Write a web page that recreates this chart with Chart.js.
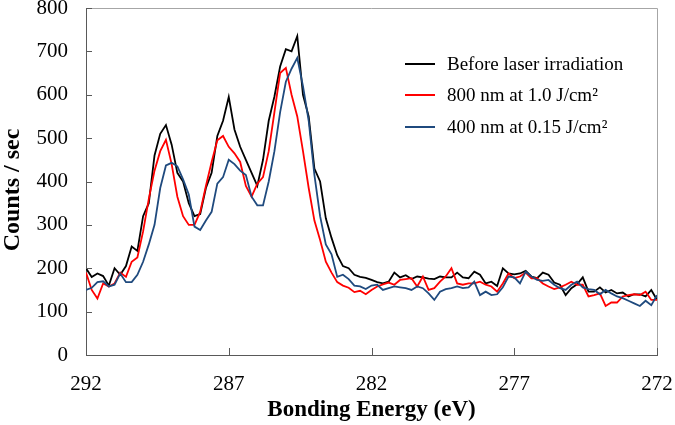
<!DOCTYPE html>
<html>
<head>
<meta charset="utf-8">
<script src="https://cdn.jsdelivr.net/npm/chart.js@4.4.1/dist/chart.umd.min.js"></script>
<style>
  body { margin: 0; background: #fff; }
</style>
</head>
<body>
<canvas id="myChart" width="675" height="425"></canvas>
<script>
// binding energy (eV), 0.2 eV steps
const energy = [
  292, 291.8, 291.6, 291.4, 291.2, 291, 290.8, 290.6, 290.4, 290.2,
  290, 289.8, 289.6, 289.4, 289.2, 289, 288.8, 288.6, 288.4, 288.2,
  288, 287.8, 287.6, 287.4, 287.2, 287, 286.8, 286.6, 286.4, 286.2,
  286, 285.8, 285.6, 285.4, 285.2, 285, 284.8, 284.6, 284.4, 284.2,
  284, 283.8, 283.6, 283.4, 283.2, 283, 282.8, 282.6, 282.4, 282.2,
  282, 281.8, 281.6, 281.4, 281.2, 281, 280.8, 280.6, 280.4, 280.2,
  280, 279.8, 279.6, 279.4, 279.2, 279, 278.8, 278.6, 278.4, 278.2,
  278, 277.8, 277.6, 277.4, 277.2, 277, 276.8, 276.6, 276.4, 276.2,
  276, 275.8, 275.6, 275.4, 275.2, 275, 274.8, 274.6, 274.4, 274.2,
  274, 273.8, 273.6, 273.4, 273.2, 273, 272.8, 272.6, 272.4, 272.2,
  272
];

const beforeCounts = [
  200, 180, 188, 182, 160, 200, 185, 205, 250, 240,
  320, 350, 460, 510, 530, 485, 420, 400, 350, 320,
  325, 385, 420, 505, 540, 595, 520, 480, 450, 420,
  390, 450, 540, 596, 665, 705, 700, 735, 600, 550,
  430, 400, 315, 270, 230, 205, 200, 185, 180, 178,
  173, 168, 165, 169, 190, 179, 184, 175, 181, 179,
  176, 175, 181, 179, 179, 190, 179, 177, 192, 185,
  165, 169, 159, 200, 188, 186, 188, 194, 181, 177,
  190, 185, 167, 162, 138, 154, 163, 179, 146, 146,
  156, 144, 150, 142, 144, 135, 140, 140, 135, 150,
  127
];

const nm800Counts = [
  190, 150, 130, 165, 158, 165, 190, 180, 215, 225,
  285, 360, 425, 470, 496, 440, 365, 320, 300, 300,
  330, 390, 445, 495, 505, 480, 465, 445, 390, 365,
  395, 410, 470, 560, 650, 662, 600, 550, 470, 385,
  310, 265, 215, 190, 168, 160, 155, 145, 148, 140,
  150, 158, 163, 167, 162, 173, 175, 177, 158, 181,
  150, 154, 169, 181, 200, 165, 162, 165, 165, 169,
  162, 158, 146, 165, 188, 177, 181, 190, 177, 177,
  165, 158, 152, 156, 162, 169, 162, 162, 135, 138,
  142, 113, 121, 121, 135, 138, 140, 138, 146, 127,
  127
];

const nm400Counts = [
  150, 155, 168, 170, 158, 162, 188, 168, 168, 185,
  215, 255, 300, 385, 437, 443, 435, 405, 370, 296,
  288, 310, 330, 395, 410, 450, 440, 425, 415, 365,
  345, 345, 400, 470, 560, 630, 660, 685, 620, 540,
  415, 320, 255, 232, 180, 185, 175, 160, 158, 152,
  160, 162, 150, 154, 158, 156, 154, 150, 158, 154,
  142, 127, 146, 152, 154, 158, 154, 156, 169, 138,
  146, 138, 140, 156, 181, 179, 165, 192, 181, 173,
  171, 173, 162, 154, 150, 162, 169, 156, 152, 150,
  140, 150, 142, 135, 131, 125, 119, 113, 125, 115,
  138
];

const seriesLabels = [
  "Before laser irradiation",
  "800 nm at 1.0 J/cm\u00B2",
  "400 nm at 0.15 J/cm\u00B2",
];
const seriesColors = ["#000000", "#ff0000", "#1f4a7e"];
const yTitle = "Counts / sec";

const toPoints = (vals) => vals.map((v, i) => ({ x: energy[i], y: v }));

const serif = "'Liberation Serif', 'Times New Roman', serif";
Chart.defaults.font.family = serif;
Chart.defaults.color = "#000";

const framePlugin = {
  id: "frame",
  afterDraw(chart) {
    const { ctx, chartArea: a, scales } = chart;
    ctx.save();
    // grey top and right border
    ctx.strokeStyle = "#a6a6a6";
    ctx.lineWidth = 1;
    ctx.beginPath();
    ctx.moveTo(a.left, a.top + 0.5);
    ctx.lineTo(Math.round(a.right) + 0.5, a.top + 0.5);
    ctx.lineTo(Math.round(a.right) + 0.5, a.bottom);
    ctx.stroke();

    // tick marks pointing inwards
    ctx.strokeStyle = "#595959";
    ctx.beginPath();
    scales.y.ticks.forEach((t) => {
      const y = Math.round(scales.y.getPixelForValue(t.value)) + 0.5;
      ctx.moveTo(a.left, y);
      ctx.lineTo(a.left + 6, y);
    });
    scales.x.ticks.forEach((t) => {
      const x = Math.round(scales.x.getPixelForValue(t.value)) + 0.5;
      ctx.moveTo(x, a.bottom);
      ctx.lineTo(x, a.bottom - 7);
    });
    ctx.stroke();

    // y axis title (sits a little below the middle in the original)
    ctx.save();
    ctx.translate(13, 190);
    ctx.rotate(-Math.PI / 2);
    ctx.font = "bold 24px " + serif;
    ctx.textAlign = "center";
    ctx.textBaseline = "middle";
    ctx.fillStyle = "#000";
    ctx.fillText(yTitle, 0, 0);
    ctx.restore();

    // legend
    const rows = [64, 95, 127];
    ctx.font = "19px " + serif;
    ctx.textBaseline = "middle";
    ctx.textAlign = "left";
    chart.data.datasets.forEach((ds, i) => {
      ctx.strokeStyle = ds.borderColor;
      ctx.lineWidth = 2;
      ctx.beginPath();
      ctx.moveTo(405, rows[i]);
      ctx.lineTo(435, rows[i]);
      ctx.stroke();
      ctx.fillStyle = "#000";
      ctx.fillText(ds.label, 447, rows[i] + 1);
    });
    ctx.restore();
  },
};

new Chart(document.getElementById("myChart"), {
  type: "line",
  data: {
    datasets: [
      { label: seriesLabels[0], data: toPoints(beforeCounts), borderColor: seriesColors[0], order: 3 },
      { label: seriesLabels[1], data: toPoints(nm800Counts), borderColor: seriesColors[1], order: 2 },
      { label: seriesLabels[2], data: toPoints(nm400Counts), borderColor: seriesColors[2], order: 1 },
    ],
  },
  options: {
    responsive: false,
    animation: false,
    devicePixelRatio: 1,
    layout: { padding: { top: 8, right: 18, left: 0, bottom: 0 } },
    elements: {
      line: { borderWidth: 1.8, tension: 0, fill: false },
      point: { radius: 0 },
    },
    plugins: {
      legend: { display: false },
      tooltip: { enabled: false },
    },
    scales: {
      x: {
        type: "linear",
        min: 272,
        max: 292,
        reverse: true,
        ticks: { stepSize: 5, padding: 17, font: { size: 21 }, color: "#000" },
        grid: { drawOnChartArea: false, drawTicks: false },
        border: { color: "#595959" },
        title: {
          display: true,
          text: "Bonding Energy (eV)",
          font: { size: 23, weight: "bold" },
          color: "#000",
          padding: { top: 0, bottom: 1 },
        },
        afterFit: (s) => {
          s.height = 70;
          s.paddingLeft = 0;
          s.paddingRight = 0;
        },
      },
      y: {
        min: 0,
        max: 800,
        ticks: { stepSize: 100, padding: 18, font: { size: 21 }, color: "#000" },
        grid: { drawOnChartArea: false, drawTicks: false },
        border: { color: "#595959" },
        title: { display: false },
        afterFit: (s) => {
          s.width = 86;
          s.paddingTop = 0;
          s.paddingBottom = 0;
        },
      },
    },
  },
  plugins: [framePlugin],
});
</script>
</body>
</html>
